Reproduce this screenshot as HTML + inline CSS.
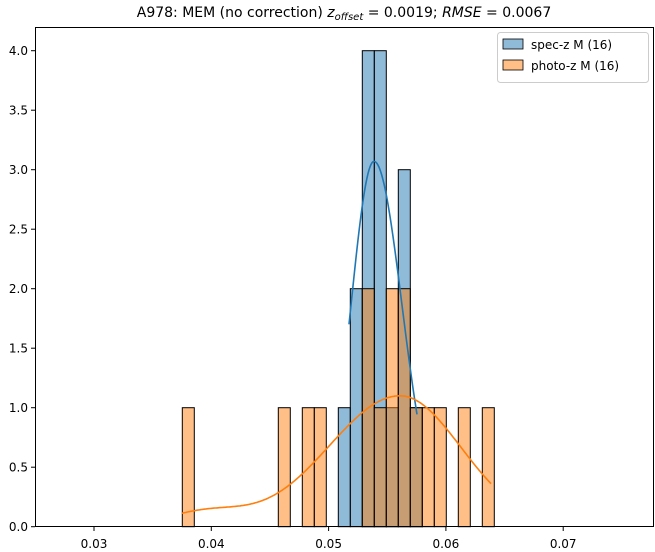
<!DOCTYPE html>
<html><head><meta charset="utf-8"><style>
body{margin:0;background:#fff;}
svg{display:block;font-family:"DejaVu Sans","Liberation Sans",sans-serif;}
</style></head><body>
<svg id="s" width="655" height="552" xmlns="http://www.w3.org/2000/svg">
<text x="344" y="17" font-size="14" text-anchor="middle">A978: MEM (no correction) <tspan font-style="italic">z</tspan><tspan font-style="italic" font-size="10" dy="3">offset</tspan><tspan dy="-3"> = 0.0019; </tspan><tspan font-style="italic">RMSE</tspan> = 0.0067</text>
<g id="bars"></g>
<path id="kb" fill="none" stroke="#1f77b4" stroke-width="1.6"/>
<path id="ko" fill="none" stroke="#ff7f0e" stroke-width="1.6"/>
<rect x="35.5" y="27.5" width="618" height="499" fill="none" stroke="#000" stroke-width="1"/>
<g id="ticks" font-size="12"></g>
<g>
<rect x="497.5" y="32.5" width="151" height="50" rx="3" fill="#fff" fill-opacity="0.8" stroke="#ccc"/>
<rect x="503" y="39" width="20" height="10" fill="#1f77b4" fill-opacity="0.5" stroke="#000" stroke-width="0.8"/>
<text x="531" y="49" font-size="12">spec-z M (16)</text>
<rect x="503" y="60" width="20" height="10" fill="#ff7f0e" fill-opacity="0.5" stroke="#000" stroke-width="0.8"/>
<text x="531" y="70" font-size="12">photo-z M (16)</text>
</g>
</svg>
<script>
const Y0=526.7,U=119,W=12,E0=182.3;
let g=document.getElementById('bars'),h='';
const blue=[[13,1],[14,2],[15,4],[16,4],[17,1],[18,3],[19,1]];
const org=[[0,1],[8,1],[10,1],[11,1],[15,2],[16,1],[17,2],[18,2],[19,1],[20,1],[21,1],[23,1],[25,1]];
function bar(k,n,c){let x=E0+k*W;return `<rect x="${x}" y="${Y0-n*U}" width="${W}" height="${n*U}" fill="${c}" fill-opacity="0.5" stroke="#000" stroke-width="1"/>`;}
blue.forEach(b=>h+=bar(b[0],b[1],'#1f77b4'));
org.forEach(b=>h+=bar(b[0],b[1],'#ff7f0e'));
g.innerHTML=h;
let p='';
for(let x=349;x<=417;x+=1){let s=x<374?23:28;let v=3.07*Math.exp(-((x-374)**2)/(2*s*s));p+=(p?'L':'M')+x+','+(Y0-v*U).toFixed(1);}
document.getElementById('kb').setAttribute('d',p);
p='';
for(let x=182;x<=491;x+=1){let s=x<400?72:61;let v=1.1*Math.exp(-((x-400)**2)/(2*s*s))+0.12*Math.exp(-((x-205)**2)/(2*40*40));p+=(p?'L':'M')+x+','+(Y0-v*U).toFixed(1);}
document.getElementById('ko').setAttribute('d',p);
let t='';
for(let i=0;i<=8;i++){let y=Y0-i*0.5*U;t+=`<line x1="31" x2="35" y1="${y}" y2="${y}" stroke="#000"/><text x="28" y="${y+4.5}" text-anchor="end">${(i*0.5).toFixed(1)}</text>`;}
for(let i=0;i<5;i++){let x=94+i*117.3;t+=`<line x1="${x}" x2="${x}" y1="527" y2="531" stroke="#000"/><text x="${x}" y="548" text-anchor="middle">0.0${i+3}</text>`;}
document.getElementById('ticks').innerHTML=t;
</script>
</body></html>
